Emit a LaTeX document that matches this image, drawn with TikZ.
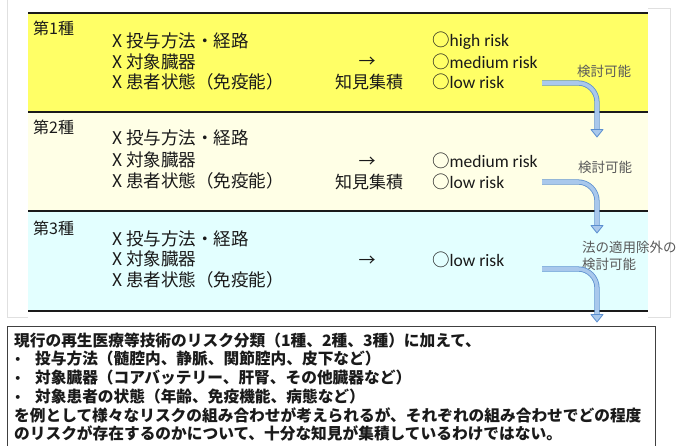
\documentclass[tikz,border=0pt]{standalone}
\usepackage{fontspec}
\setmainfont{Carlito}
\newfontfamily\jp{Noto Sans CJK JP}
\definecolor{yelA}{HTML}{FFFF66}
\definecolor{yelB}{HTML}{FFFFE6}
\definecolor{cyaC}{HTML}{E3FFFF}
\definecolor{arrowfill}{HTML}{A9C8EC}
\definecolor{arrowline}{HTML}{5B8FD0}
\definecolor{notegray}{HTML}{595959}
\definecolor{ink}{HTML}{1A1A1A}
\newcommand{\bulletmark}{\makebox[21pt][l]{\hspace{1pt}\raisebox{2pt}{\rmfamily\mdseries\fontsize{11}{11}\selectfont •}}}
\tikzset{
  sepline/.style={line width=2pt, ink},
  panel/.style={line width=0.6pt, black!12},
  item/.style={anchor=west, inner sep=0pt, text=ink, font=\jp\fontsize{17.5}{21}\selectfont, text height=15.4pt, text depth=2.1pt},
  kind/.style={anchor=west, inner sep=0pt, text=ink, font=\jp\fontsize{16}{19}\selectfont, text height=14.1pt, text depth=1.9pt},
  risk/.style={anchor=west, inner sep=0pt, text=ink, font=\fontsize{17.5}{21}\selectfont, text height=15.4pt, text depth=2.1pt},
  mid/.style={anchor=center, inner sep=0pt, text=ink, font=\jp\fontsize{17}{20}\selectfont, text height=15pt, text depth=2pt},
  note/.style={anchor=west, inner sep=0pt, text=notegray, font=\jp\fontsize{13.5}{16}\selectfont, text height=11.9pt, text depth=1.6pt},
  boxline/.style={anchor=west, inner sep=0pt, text=ink, font=\jp\bfseries\fontsize{15.7}{18.6}\selectfont, text height=13.8pt, text depth=1.9pt},
  shaft/.style={draw=arrowline, double=arrowfill, double distance=3.6pt, line width=0.8pt, rounded corners=19pt},
  head/.style={draw=arrowline, fill=arrowfill, line width=0.8pt, line join=round},
}
\begin{document}
\begin{tikzpicture}[x=1pt,y=-1pt]
\useasboundingbox (0,0) rectangle (689,446);
\fill[white] (0,0) rectangle (689,446);
% faint panels
\draw[panel] (7,0) -- (7,317) -- (28,317);
\draw[panel] (648,8) -- (670,8) -- (670,317) -- (648,317);
% bands
\fill[yelA] (28,13) rectangle (648,112);
\fill[yelB] (28,112) rectangle (648,211);
\fill[cyaC] (28,211) rectangle (648,311);
\draw[sepline] (28,13) -- (648,13);
\draw[sepline] (28,112) -- (648,112);
\draw[sepline] (28,211) -- (648,211);
\draw[sepline] (28,311) -- (648,311);
% band 1
\node[kind] (k1) at (33,28) {第1種};
\node[item] (a1) at (112,41) {X 投与方法・経路};
\node[item] (b1) at (112,62) {X 対象臓器};
\node[item] (c1) at (112,82) {X 患者状態（免疫能）};
\node[mid] (m1) at (367,61) {→};
\node[mid] (n1) at (369,82) {知見集積};
\node[risk] (r1h) at (432,40) {{\jp ○}high risk};
\node[risk] (r1m) at (432,62) {{\jp ○}medium risk};
\node[risk] (r1l) at (432,82) {{\jp ○}low risk};
\node[note] (t1) at (577,71) {検討可能};
% band 2
\node[kind] (k2) at (33,127) {第2種};
\node[item] (a2) at (112,138) {X 投与方法・経路};
\node[item] (b2) at (112,160) {X 対象臓器};
\node[item] (c2) at (112,181) {X 患者状態（免疫能）};
\node[mid] (m2) at (367,161) {→};
\node[mid] (n2) at (369,182) {知見集積};
\node[risk] (r2m) at (432,161) {{\jp ○}medium risk};
\node[risk] (r2l) at (432,182) {{\jp ○}low risk};
\node[note] (t2) at (578,167) {検討可能};
% band 3
\node[kind] (k3) at (33,228) {第3種};
\node[item] (a3) at (112,239) {X 投与方法・経路};
\node[item] (b3) at (112,259) {X 対象臓器};
\node[item] (c3) at (112,280) {X 患者状態（免疫能）};
\node[mid] (m3) at (367,260) {→};
\node[risk] (r3l) at (432,260) {{\jp ○}low risk};
\node[note] (t3a) at (582,247) {法の適用除外の};
\node[note] (t3b) at (582,264) {検討可能};
% arrows
\coordinate (s1) at (542,83);  \coordinate (e1) at (597,130);
\coordinate (s2) at (542,182); \coordinate (e2) at (597,226);
\coordinate (s3) at (542,269); \coordinate (e3) at (597,315);
\draw[shaft] (s1) -| (e1);
\draw[head, shift={(e1)}] (-6,-0.5) -- (6,-0.5) -- (0,7) -- cycle;
\draw[shaft] (s2) -| (e2);
\draw[head, shift={(e2)}] (-6,-0.5) -- (6,-0.5) -- (0,7) -- cycle;
\draw[shaft] (s3) -| (e3);
\draw[head, shift={(e3)}] (-6,-0.5) -- (6,-0.5) -- (0,7) -- cycle;
% bottom box
\draw[line width=0.9pt, black!75] (7,326) rectangle (655,448);
\node[boxline] (l1) at (14,341) {現行の再生医療等技術のリスク分類（1種、2種、3種）に加えて、};
\node[boxline] (l2) at (14,359) {\bulletmark 投与方法（髄腔内、静脈、関節腔内、皮下など）};
\node[boxline] (l3) at (14,378) {\bulletmark 対象臓器（コアバッテリー、肝腎、その他臓器など）};
\node[boxline] (l4) at (14,397) {\bulletmark 対象患者の状態（年齢、免疫機能、病態など）};
\node[boxline] (l5) at (14,416) {を例として様々なリスクの組み合わせが考えられるが、それぞれの組み合わせでどの程度};
\node[boxline] (l6) at (14,434) {のリスクが存在するのかについて、十分な知見が集積しているわけではない。};
\end{tikzpicture}
\end{document}
